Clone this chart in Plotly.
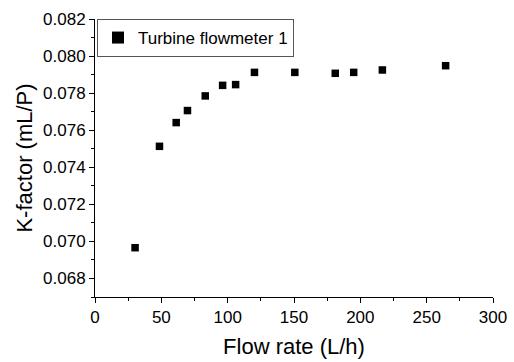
import plotly.graph_objects as go

flow_rate = [30.2, 48.6, 61.2, 69.7, 83.1, 96.2, 106.0, 120.2, 150.6, 181.1, 195.0, 216.6, 264.3]
k_factor = [0.06966, 0.07513, 0.07641, 0.07706, 0.07785, 0.07842, 0.07846, 0.07912, 0.07912, 0.07907, 0.07912, 0.07925, 0.07948]
series_name = "Turbine flowmeter 1"

FONT = "Liberation Sans, Arial, sans-serif"

fig = go.Figure()
fig.add_trace(go.Scatter(
    x=flow_rate, y=k_factor, mode="markers", name=series_name,
    marker=dict(symbol="square", size=7.5, color="black", line=dict(width=0)),
))

fig.update_layout(
    width=514, height=362,
    margin=dict(l=95, r=21, t=19, b=65, autoexpand=False),
    paper_bgcolor="white", plot_bgcolor="white",
    font=dict(family=FONT, color="black", size=17),
    showlegend=True,
    legend=dict(x=0.005, y=1.0, xanchor="left", yanchor="top",
                bgcolor="white", bordercolor="#555", borderwidth=1,
                font=dict(size=17, family=FONT),
                itemsizing="constant", tracegroupgap=0),
)
fig.update_xaxes(
    range=[0, 300], dtick=50, tick0=0, automargin=False, ticklabeloverflow="allow",
    showline=True, linecolor="black", linewidth=1, mirror=False,
    ticks="outside", ticklen=5, tickcolor="black",
    minor=dict(ticks="outside", ticklen=3, dtick=25, tick0=0, tickcolor="black"),
    showgrid=False, zeroline=False,
    tickfont=dict(size=17),
    title=dict(text="Flow rate (L/h)", font=dict(size=22), standoff=12),
)
fig.update_yaxes(
    range=[0.067, 0.082], dtick=0.002, tick0=0.068, tickformat=".3f", automargin=False,
    ticklabeloverflow="allow",
    showline=True, linecolor="black", linewidth=1, mirror=False,
    ticks="outside", ticklen=5, tickcolor="black",
    minor=dict(ticks="outside", ticklen=3, dtick=0.001, tick0=0.067, tickcolor="black"),
    showgrid=False, zeroline=False,
    tickfont=dict(size=17),
    title=dict(text="K-factor (mL/P)", font=dict(size=22), standoff=4),
)

fig.write_html(
    "out.html",
    config={"displayModeBar": False},
    post_script="document.body.style.margin='0';document.documentElement.style.overflow='hidden';",
)
